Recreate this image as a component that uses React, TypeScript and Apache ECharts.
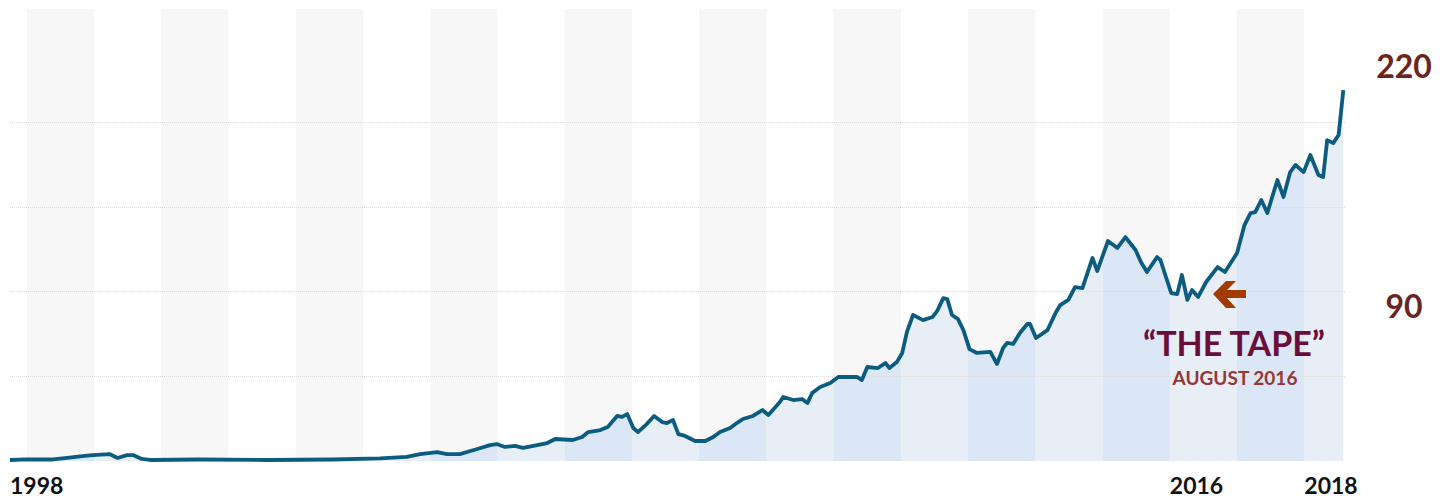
import React, { useEffect, useRef } from "react";
import * as echarts from "echarts";

// Decimal year of each point
const YEARS = [
  1998.75, 1999.0, 1999.39, 1999.6, 1999.83, 1999.98, 2000.23, 2000.35, 2000.49, 2000.58,
  2000.71, 2000.83, 2001.57, 2002.57, 2003.55, 2004.25, 2004.65, 2004.85, 2005.1, 2005.25,
  2005.44, 2005.7, 2005.89, 2005.99, 2006.11, 2006.26, 2006.38, 2006.59, 2006.74, 2006.86,
  2007.12, 2007.26, 2007.35, 2007.53, 2007.64, 2007.78, 2007.85, 2007.93, 2008.02, 2008.09,
  2008.22, 2008.33, 2008.45, 2008.52, 2008.61, 2008.69, 2008.79, 2008.94, 2009.09, 2009.21,
  2009.31, 2009.46, 2009.56, 2009.65, 2009.8, 2009.94, 2010.03, 2010.2, 2010.25, 2010.4,
  2010.53, 2010.61, 2010.68, 2010.8, 2010.95, 2011.07, 2011.35, 2011.42, 2011.5, 2011.66,
  2011.77, 2011.83, 2011.94, 2012.02, 2012.09, 2012.18, 2012.33, 2012.47, 2012.54, 2012.63,
  2012.69, 2012.76, 2012.85, 2012.93, 2013.02, 2013.13, 2013.33, 2013.43, 2013.52, 2013.58,
  2013.67, 2013.77, 2013.88, 2013.92, 2014.01, 2014.18, 2014.3, 2014.37, 2014.49, 2014.59,
  2014.7, 2014.85, 2014.92, 2015.08, 2015.22, 2015.34, 2015.49, 2015.57, 2015.66, 2015.81,
  2015.86, 2016.02, 2016.11, 2016.18, 2016.26, 2016.33, 2016.42, 2016.54, 2016.71, 2016.82,
  2017.0, 2017.11, 2017.2, 2017.27, 2017.36, 2017.45, 2017.6, 2017.69, 2017.79, 2017.87,
  2017.99, 2018.09, 2018.21, 2018.28, 2018.34, 2018.43, 2018.51, 2018.58,
];

// Price at each point
const VALUES = [
  0.6, 0.9, 0.9, 1.8, 2.9, 3.5, 4.1, 1.8, 3.5, 3.5,
  1.2, 0.6, 0.9, 0.6, 0.9, 1.5, 2.4, 4.1, 5.3, 4.1,
  4.1, 7.1, 9.4, 10.0, 8.3, 8.9, 7.7, 9.4, 10.6, 13.0,
  12.4, 14.2, 17.1, 18.3, 20.1, 26.6, 26.0, 27.7, 19.5, 17.1,
  21.8, 26.6, 23.0, 22.4, 24.2, 15.9, 14.8, 11.8, 11.8, 14.2,
  17.1, 19.5, 22.4, 24.8, 26.6, 30.1, 27.2, 34.8, 37.8, 36.0,
  36.6, 34.2, 40.1, 43.7, 46.1, 49.6, 49.6, 47.8, 55.5, 54.9,
  57.9, 54.9, 58.4, 63.8, 76.2, 86.2, 83.2, 85.0, 88.6, 96.2,
  95.6, 86.2, 83.8, 77.3, 66.1, 63.8, 64.4, 57.3, 66.7, 69.7,
  69.1, 75.6, 80.9, 80.9, 72.6, 77.3, 87.4, 92.1, 95.1, 102.7,
  102.1, 119.9, 112.2, 129.9, 125.8, 132.2, 124.6, 117.5, 111.6, 120.4,
  118.7, 99.2, 98.6, 109.8, 95.1, 101.0, 96.8, 105.7, 114.5, 111.6,
  122.8, 139.3, 146.4, 147.0, 154.1, 146.4, 165.9, 155.9, 170.6, 174.8,
  170.6, 180.7, 168.9, 167.7, 189.5, 187.7, 192.5, 219.0,
];

const GRID_VALUES = [50, 100, 150, 200];
const X_LABEL_VALUES = [1998.75, 2016, 2018];
const X_MIN = 1998.75;
const X_MAX = 2018.62;
const Y_MAX = 266.9;
const FIRST_YEAR = 1998;
const LAST_YEAR = 2019;

const ANNOT_HIGH = "220";
const ANNOT_LOW = "90";
const TAPE_TITLE = "\u201CTHE TAPE\u201D";
const TAPE_DATE = "AUGUST 2016";

export default function App() {
  const ref = useRef<HTMLDivElement>(null);

  useEffect(() => {
    if (!ref.current) return;
    const chart = echarts.init(ref.current, null, { renderer: "svg" });
    const data = YEARS.map((y, i) => [y, VALUES[i]]);

    const bands: any[] = [];
    const pieces: any[] = [];
    for (let y = FIRST_YEAR; y < LAST_YEAR; y++) {
      const odd = y % 2 === 1;
      if (odd) bands.push([{ xAxis: y }, { xAxis: y + 1 }]);
      pieces.push({ gte: y, lt: y + 1, color: odd ? "#dbe7f6" : "#e8eef6" });
    }

    const font = "Lato, 'Open Sans', sans-serif";
    const textStyle = (text: string, fill: string, size: number) => ({
      text,
      fill,
      fontFamily: font,
      fontWeight: "bold",
      fontSize: size,
      textAlign: "center",
      textVerticalAlign: "middle",
    });

    chart.setOption({
      animation: false,
      backgroundColor: "#ffffff",
      grid: { left: 10, right: 101, top: 9, bottom: 38 },
      xAxis: {
        type: "value",
        min: X_MIN,
        max: X_MAX,
        axisLine: { show: false },
        axisTick: { show: false },
        splitLine: { show: false },
        axisLabel: {
          customValues: X_LABEL_VALUES,
          formatter: (v: number) => String(Math.floor(v)),
          align: "left",
          margin: 12,
          lineHeight: 23,
          color: "#111111",
          fontFamily: font,
          fontWeight: "bold",
          fontSize: 23,
        },
      },
      yAxis: {
        type: "value",
        min: 0,
        max: Y_MAX,
        axisLine: { show: false },
        axisTick: { show: false },
        axisLabel: { show: false },
        splitLine: { show: false },
      },
      visualMap: {
        show: false,
        type: "piecewise",
        dimension: 0,
        seriesIndex: 0,
        pieces,
        outOfRange: { color: "#e8eef6" },
      },
      series: [
        {
          type: "line",
          data,
          z: 2,
          showSymbol: false,
          silent: true,
          lineStyle: { width: 0, opacity: 0 },
          areaStyle: { opacity: 1 },
          markArea: {
            silent: true,
            z: 1,
            itemStyle: { color: "#f7f7f7" },
            label: { show: false },
            data: bands,
          },
          markLine: {
            silent: true,
            z: 4,
            symbol: ["none", "none"],
            label: { show: false },
            lineStyle: { type: "dotted", color: "#dadada", width: 1 },
            data: GRID_VALUES.map((v) => ({ yAxis: v })),
          },
        },
        {
          type: "line",
          data,
          z: 6,
          showSymbol: false,
          silent: true,
          lineStyle: { color: "#0b5c80", width: 3.8, join: "round" },
        },
      ],
      graphic: {
        elements: [
          { type: "text", z: 100, x: 1404, y: 65, style: textStyle(ANNOT_HIGH, "#6b2323", 32) },
          { type: "text", z: 100, x: 1404, y: 305, style: textStyle(ANNOT_LOW, "#6b2323", 32) },
          { type: "text", z: 100, x: 1234, y: 342, style: textStyle(TAPE_TITLE, "#6a0d3b", 34) },
          { type: "text", z: 100, x: 1235, y: 377, style: textStyle(TAPE_DATE, "#953735", 19) },
          {
            type: "polygon",
            z: 100,
            shape: {
              points: [
                [1213, 294],
                [1226, 281],
                [1236, 281],
                [1227, 290],
                [1246, 290],
                [1246, 298],
                [1227, 298],
                [1236, 308],
                [1226, 308],
              ],
            },
            style: { fill: "#a33a00" },
          },
        ],
      },
    });

    return () => chart.dispose();
  }, []);

  return (
    <div
      ref={ref}
      style={{ position: "fixed", left: 0, top: 0, width: 1447, height: 499 }}
    />
  );
}
